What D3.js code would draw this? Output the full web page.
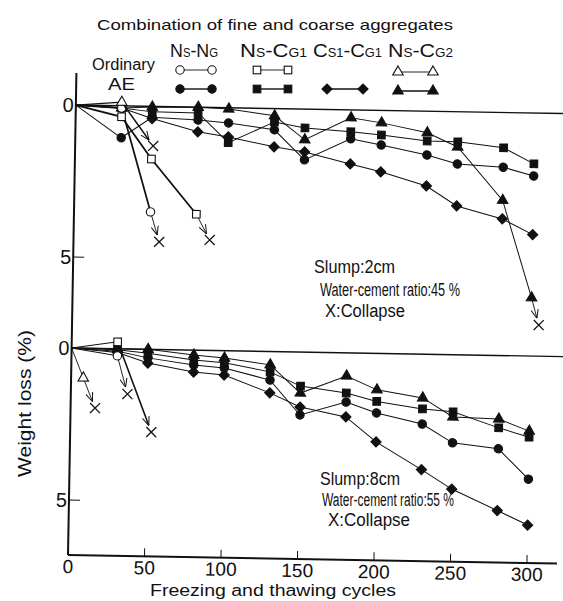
<!DOCTYPE html>
<html>
<head>
<meta charset="utf-8">
<script src="https://cdn.jsdelivr.net/npm/d3@7/dist/d3.min.js"></script>
<style>
  body { margin: 0; background: #fff; }
  svg { display: block; font-family: "Liberation Sans", Arial, sans-serif; }
</style>
</head>
<body>
<div id="chart"></div>
<script>
// freezing-thawing cycles at which weight loss was measured
const cycles = [0, 30, 50, 80, 100, 130, 150, 180, 200, 230, 250, 280, 300];

// Slump 2 cm, W/C 45 %  -- AE concrete
const ae45NsNg   = [0, 1.05, 0.36, 0.42, 0.5, 0.7, 1.67, 0.95, 1.14, 1.44, 1.72, 1.8, 2.07];
const ae45NsCg1  = [0, 0.07, 0.18, 0.19, 1.15, 0.44, 0.62, 0.72, 0.81, 0.98, 0.99, 1.16, 1.67];
const ae45Cs1Cg1 = [0, 0.07, 0.4, 0.81, 0.96, 1.26, 1.41, 1.78, 2.02, 2.46, 3.1, 3.5, 4.0];
const ae45NsCg2  = [0, 0.07, 0.02, 0, 0.04, 0.24, 1.01, 0.26, 0.41, 0.71, 1.16, 2.89, 6.08];
const ae45NsCg2Collapse = [305, 6.97];

// Slump 2 cm, W/C 45 %  -- ordinary concrete (collapsed early)
const ord45NsNgCycles  = [0, 30, 50];
const ord45NsNg        = [0, 0.07, 3.47];
const ord45NsNgCollapse = [56, 4.45];
const ord45NsCg1Cycles = [0, 30, 50, 80];
const ord45NsCg1       = [0, 0.36, 1.73, 3.52];
const ord45NsCg1Collapse = [89, 4.36];
const ord45NsCg2Cycles = [0, 30];
const ord45NsCg2       = [0, -0.12];
const ord45NsCg2Collapse = [51, 1.3];

// Slump 8 cm, W/C 55 %  -- AE concrete
const ae55NsNg   = [0, 0.08, 0.28, 0.49, 0.57, 0.94, 2.07, 1.62, 1.96, 2.3, 2.9, 3.07, 4.05];
const ae55NsCg1  = [0, 0.03, 0.13, 0.32, 0.4, 0.67, 1.12, 1.32, 1.58, 1.8, 1.88, 2.38, 2.67];
const ae55Cs1Cg1 = [0, 0.12, 0.45, 0.72, 0.8, 1.36, 1.81, 2.11, 2.91, 3.8, 4.42, 5.1, 5.56];
const ae55NsCg2  = [0, 0, 0, 0.16, 0.24, 0.44, 1.35, 0.76, 1.2, 1.44, 2.05, 2.09, 2.47];

// Slump 8 cm, W/C 55 %  -- ordinary concrete
const ord55NsNgCycles  = [0, 30];
const ord55NsNg        = [0, 0.23];
const ord55NsNgCollapse = [37, 1.48];
const ord55NsCg1Cycles = [0, 30];
const ord55NsCg1       = [0, -0.23];
const ord55NsCg1Collapse = [53, 2.72];
const ord55NsCg2Cycles = [0, 8];
const ord55NsCg2       = [0, 0.98];
const ord55NsCg2Collapse = [16, 1.96];

const xTicks = [0, 50, 100, 150, 200, 250, 300];
const yTicks = [0, 5];

const width = 563, height = 601;

const svg = d3.select('#chart').append('svg')
    .attr('width', width)
    .attr('height', height);

const defs = svg.append('defs');
defs.append('marker')
    .attr('id', 'arrow')
    .attr('markerUnits', 'userSpaceOnUse')
    .attr('viewBox', '0 0 10 10')
    .attr('refX', 10).attr('refY', 5)
    .attr('markerWidth', 9).attr('markerHeight', 9)
    .attr('orient', 'auto')
  .append('path')
    .attr('d', 'M0,1 L10,5 L0,9')
    .attr('fill', 'none')
    .attr('stroke', '#111')
    .attr('stroke-width', 1.1);

// the scanned figure is tilted by about one degree
const plot = svg.append('g').attr('transform', 'rotate(1,68,555)');

const x = d3.scaleLinear().domain([0, 300]).range([68, 527]);
const yTop = d3.scaleLinear().domain([0, 5]).range([105, 257]);
const yBot = d3.scaleLinear().domain([0, 5]).range([348, 500]);

// axes
plot.append('line')
    .attr('x1', x(0)).attr('y1', 73).attr('x2', x(0)).attr('y2', 555)
    .attr('stroke', '#111').attr('stroke-width', 2);
plot.append('line')
    .attr('x1', x(0)).attr('y1', 555).attr('x2', 557).attr('y2', 555)
    .attr('stroke', '#111').attr('stroke-width', 2);

plot.selectAll('.xtick').data(xTicks.filter(d => d > 0)).join('line')
    .attr('x1', d => x(d)).attr('x2', d => x(d))
    .attr('y1', 555).attr('y2', 547)
    .attr('stroke', '#111').attr('stroke-width', 1);
plot.selectAll('.xlab').data(xTicks).join('text')
    .attr('x', d => x(d)).attr('y', 573)
    .attr('text-anchor', 'middle')
    .attr('font-size', 19)
    .attr('fill', '#111')
    .text(d => d);

[yTop, yBot].forEach(ys => {
    // zero reference line across the panel
    plot.append('line')
        .attr('x1', x(0)).attr('x2', 575)
        .attr('y1', ys(0)).attr('y2', ys(0))
        .attr('stroke', '#111').attr('stroke-width', 1.4);
    plot.selectAll(null).data(yTicks.filter(d => d > 0)).join('line')
        .attr('x1', x(0)).attr('x2', x(0) + 11)
        .attr('y1', d => ys(d)).attr('y2', d => ys(d))
        .attr('stroke', '#111').attr('stroke-width', 1);
    plot.selectAll(null).data(yTicks).join('text')
        .attr('x', 66).attr('y', d => ys(d) + 7)
        .attr('text-anchor', 'end')
        .attr('font-size', 20)
        .attr('fill', '#111')
        .text(d => d);
});

function drawMarker(g, shape, filled, cx, cy) {
    const fill = filled ? '#111' : '#fff';
    if (shape === 'circle') {
        g.append('circle').attr('cx', cx).attr('cy', cy).attr('r', 4.2)
            .attr('fill', fill).attr('stroke', '#111').attr('stroke-width', 1.1);
    } else if (shape === 'square') {
        g.append('rect').attr('x', cx - 3.8).attr('y', cy - 3.8)
            .attr('width', 7.6).attr('height', 7.6)
            .attr('fill', fill).attr('stroke', '#111').attr('stroke-width', 1.1);
    } else if (shape === 'diamond') {
        g.append('rect').attr('x', -3.6).attr('y', -3.6)
            .attr('width', 7.2).attr('height', 7.2)
            .attr('transform', `translate(${cx},${cy}) rotate(45)`)
            .attr('fill', fill).attr('stroke', '#111').attr('stroke-width', 1.1);
    } else {
        g.append('path').attr('d', d3.symbol(d3.symbolTriangle, 48)())
            .attr('transform', `translate(${cx},${cy})`)
            .attr('fill', fill).attr('stroke', '#111').attr('stroke-width', 1.1);
    }
}

function drawX(g, cx, cy) {
    const s = 5;
    g.append('path')
        .attr('d', `M${cx - s},${cy - s}L${cx + s},${cy + s}M${cx + s},${cy - s}L${cx - s},${cy + s}`)
        .attr('stroke', '#111').attr('stroke-width', 1.3).attr('fill', 'none');
}

function drawSeries(ys, s) {
    const g = plot.append('g');
    const pts = s.cycles.map((c, i) => [x(c), ys(s.values[i])]);
    g.append('path')
        .attr('d', d3.line()(pts))
        .attr('fill', 'none')
        .attr('stroke', '#111')
        .attr('stroke-width', s.lineWidth);
    if (s.collapse) {
        const last = pts[pts.length - 1];
        const cx = x(s.collapse[0]), cy = ys(s.collapse[1]);
        const dx = cx - last[0], dy = cy - last[1];
        const len = Math.hypot(dx, dy);
        const ex = cx - dx / len * 7, ey = cy - dy / len * 7;
        g.append('line')
            .attr('x1', last[0]).attr('y1', last[1]).attr('x2', ex).attr('y2', ey)
            .attr('stroke', '#111').attr('stroke-width', s.arrowWidth || 0.9)
            .attr('marker-end', 'url(#arrow)');
        drawX(g, cx, cy);
    }
    // skip the common origin point
    pts.slice(1).forEach(p => drawMarker(g, s.shape, s.filled, p[0], p[1]));
}

const panel45 = [
    { shape: 'diamond', filled: true, cycles: cycles, values: ae45Cs1Cg1, lineWidth: 1 },
    { shape: 'circle', filled: true, cycles: cycles, values: ae45NsNg, lineWidth: 1 },
    { shape: 'square', filled: true, cycles: cycles, values: ae45NsCg1, lineWidth: 1 },
    { shape: 'triangle', filled: true, cycles: cycles, values: ae45NsCg2, lineWidth: 1, collapse: ae45NsCg2Collapse },
    { shape: 'circle', filled: false, cycles: ord45NsNgCycles, values: ord45NsNg, lineWidth: 1.8, collapse: ord45NsNgCollapse },
    { shape: 'square', filled: false, cycles: ord45NsCg1Cycles, values: ord45NsCg1, lineWidth: 1.8, collapse: ord45NsCg1Collapse },
    { shape: 'triangle', filled: false, cycles: ord45NsCg2Cycles, values: ord45NsCg2, lineWidth: 1.2, collapse: ord45NsCg2Collapse, arrowWidth: 1.4 },
];
const panel55 = [
    { shape: 'diamond', filled: true, cycles: cycles, values: ae55Cs1Cg1, lineWidth: 1 },
    { shape: 'circle', filled: true, cycles: cycles, values: ae55NsNg, lineWidth: 1 },
    { shape: 'square', filled: true, cycles: cycles, values: ae55NsCg1, lineWidth: 1 },
    { shape: 'triangle', filled: true, cycles: cycles, values: ae55NsCg2, lineWidth: 1 },
    { shape: 'circle', filled: false, cycles: ord55NsNgCycles, values: ord55NsNg, lineWidth: 1, collapse: ord55NsNgCollapse },
    { shape: 'square', filled: false, cycles: ord55NsCg1Cycles, values: ord55NsCg1, lineWidth: 1, collapse: ord55NsCg1Collapse, arrowWidth: 1.6 },
    { shape: 'triangle', filled: false, cycles: ord55NsCg2Cycles, values: ord55NsCg2, lineWidth: 0.9, collapse: ord55NsCg2Collapse },
];
panel45.forEach(s => drawSeries(yTop, s));
panel55.forEach(s => drawSeries(yBot, s));

// axis titles
svg.append('text')
    .attr('x', 150).attr('y', 596)
    .attr('font-size', 16)
    .attr('textLength', 246).attr('lengthAdjust', 'spacingAndGlyphs')
    .attr('fill', '#111')
    .text('Freezing and thawing cycles');
svg.append('text')
    .attr('transform', 'translate(31,477) rotate(-90)')
    .attr('font-size', 18)
    .attr('textLength', 147).attr('lengthAdjust', 'spacingAndGlyphs')
    .attr('fill', '#111')
    .text('Weight loss (%)');

// panel notes
function note(lines) {
    lines.forEach(l => {
        svg.append('text')
            .attr('x', l[0]).attr('y', l[1])
            .attr('font-size', 18)
            .attr('textLength', l[2]).attr('lengthAdjust', 'spacingAndGlyphs')
            .attr('fill', '#111')
            .text(l[3]);
    });
}
note([
    [314, 273, 81, 'Slump:2cm'],
    [320, 296, 140, 'Water-cement ratio:45 %'],
    [325, 317, 80, 'X:Collapse'],
    [320, 485, 80, 'Slump:8cm'],
    [322, 506, 132, 'Water-cement ratio:55 %'],
    [328, 526, 82, 'X:Collapse'],
]);

// legend
svg.append('text')
    .attr('x', 97).attr('y', 30)
    .attr('font-size', 15)
    .attr('textLength', 356).attr('lengthAdjust', 'spacingAndGlyphs')
    .attr('fill', '#111')
    .text('Combination of fine and coarse aggregates');

const headers = [
    { x: 170, w: 48, parts: [['N', 0], ['S', 1], ['-', 0], ['N', 0], ['G', 1]] },
    { x: 240, w: 67, parts: [['N', 0], ['S', 1], ['-', 0], ['C', 0], ['G1', 1]] },
    { x: 313, w: 69, parts: [['C', 0], ['S1', 1], ['-', 0], ['C', 0], ['G1', 1]] },
    { x: 388, w: 65, parts: [['N', 0], ['S', 1], ['-', 0], ['C', 0], ['G2', 1]] },
];
headers.forEach(h => {
    const t = svg.append('text')
        .attr('x', h.x).attr('y', 57)
        .attr('textLength', h.w).attr('lengthAdjust', 'spacingAndGlyphs')
        .attr('fill', '#111');
    h.parts.forEach(p => t.append('tspan').attr('font-size', p[1] ? 12 : 19).text(p[0]));
});

svg.append('text').attr('x', 92).attr('y', 70).attr('font-size', 16)
    .attr('textLength', 63).attr('lengthAdjust', 'spacingAndGlyphs')
    .attr('fill', '#111').text('Ordinary');
svg.append('text').attr('x', 108).attr('y', 90).attr('font-size', 17)
    .attr('textLength', 27).attr('lengthAdjust', 'spacingAndGlyphs')
    .attr('fill', '#111').text('AE');

const legendRows = [
    { y: 70, filled: false, width: 0.9, items: [['circle', 180, 212], ['square', 257, 288], ['triangle', 398, 433]] },
    { y: 89, filled: true, width: 1.4, items: [['circle', 180, 212], ['square', 257, 288], ['diamond', 327, 363], ['triangle', 398, 433]] },
];
legendRows.forEach(r => {
    r.items.forEach(it => {
        const g = svg.append('g');
        const yy = it[0] === 'triangle' ? r.y + 2 : r.y;
        g.append('line').attr('x1', it[1]).attr('x2', it[2])
            .attr('y1', yy).attr('y2', yy)
            .attr('stroke', '#111').attr('stroke-width', r.width);
        drawMarker(g, it[0], r.filled, it[1], yy);
        drawMarker(g, it[0], r.filled, it[2], yy);
    });
});
</script>
</body>
</html>
